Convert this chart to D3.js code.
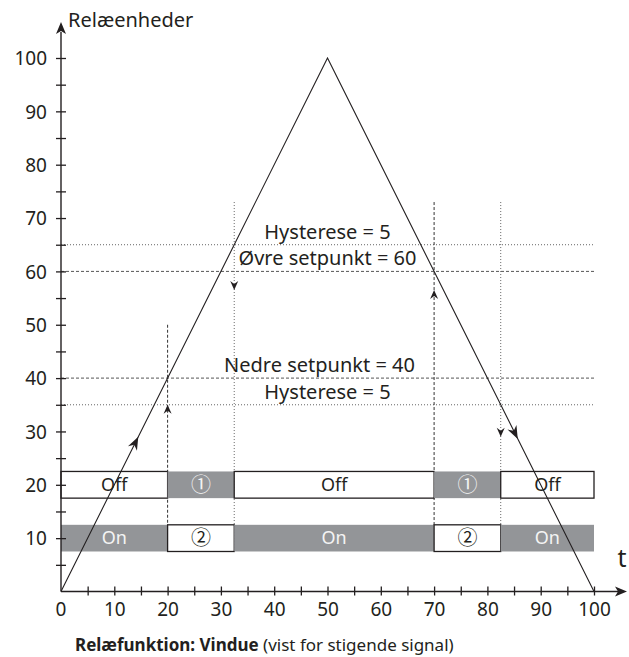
<!DOCTYPE html>
<html lang="da">
<head>
<meta charset="UTF-8">
<title>Relæfunktion: Vindue</title>
<style>
  body { margin: 0; background: #fff; }
  text { font-family: "Noto Sans", "DejaVu Sans", sans-serif; fill: #231f20; }
</style>
</head>
<body>
<div id="chart"></div>
<script src="https://cdn.jsdelivr.net/npm/d3@7"></script>
<script>
// signal: rising to the peak, then falling back
const signalT = [0, 50, 100];
const signalV = [0, 100, 0];

const xTickLabels = [0, 10, 20, 30, 40, 50, 60, 70, 80, 90, 100];
const yTickLabels = [10, 20, 30, 40, 50, 60, 70, 80, 90, 100];

const upperSetpoint = 60, lowerSetpoint = 40, hysteresis = 5;

// where the relay switches (t) and at which signal level
const switchT = [20, 32.5, 70, 82.5];
const switchLevel = [40, 65, 60, 35];
const switchLineTop = [50, 73, 73, 73];
const switchArrowTip = [35, 56.5, 56.5, 29];

// relay rows: contact 1 (Off row) and contact 2 (On row)
const rowLevel = [20, 10];
const rowHalf = 2.5;
const segStart = [0, 20, 32.5, 70, 82.5];
const segEnd = [20, 32.5, 70, 82.5, 100];
const offRowText = ["Off", "\u2460", "Off", "\u2460", "Off"];
const offRowActive = [false, true, false, true, false];
const onRowText = ["On", "\u2461", "On", "\u2461", "On"];
const onRowActive = [true, false, true, false, true];

const labelText = ["Hysterese = 5", "Øvre setpunkt = 60", "Nedre setpunkt = 40", "Hysterese = 5"];
const labelLevel = [65, 60, 40, 35];
const labelT = [50, 50, 48.5, 50];

// direction arrows on the signal line
const flowT = [14.5, 85.7];

const width = 629, height = 657;
const ink = "#231f20", grey = "#939598";

const svg = d3.select("#chart").append("svg")
    .attr("width", width)
    .attr("height", height);

const x = d3.scaleLinear().domain([0, 100]).range([61, 594]);
const y = d3.scaleLinear().domain([0, 100]).range([591.5, 58]);

// notched arrow head, tip at origin, pointing to +x
function head(len, half, notch) {
    return `M0,0L${-len},${-half}L${-len + notch},0L${-len},${half}Z`;
}

// horizontal reference lines
const hLines = [upperSetpoint + hysteresis, upperSetpoint, lowerSetpoint, lowerSetpoint - hysteresis];
const isSetLevel = v => v === upperSetpoint || v === lowerSetpoint;
svg.append("g")
    .selectAll("line")
    .data(hLines)
    .join("line")
    .attr("x1", x(0)).attr("x2", x(100))
    .attr("y1", d => y(d)).attr("y2", d => y(d))
    .attr("stroke", d => isSetLevel(d) ? "#555" : "#666")
    .attr("stroke-width", 1)
    .attr("stroke-dasharray", d => isSetLevel(d) ? "3,2" : "1,2");

// vertical switching lines
const sw = switchT.map((t, i) => ({t, level: switchLevel[i], top: switchLineTop[i], tip: switchArrowTip[i]}));
svg.append("g")
    .selectAll("line")
    .data(sw)
    .join("line")
    .attr("x1", d => x(d.t)).attr("x2", d => x(d.t))
    .attr("y1", d => y(d.top)).attr("y2", y(rowLevel[1] - rowHalf))
    .attr("stroke", d => isSetLevel(d.level) ? "#333" : "#666")
    .attr("stroke-width", 1)
    .attr("stroke-dasharray", d => isSetLevel(d.level) ? "3,2" : "1,2");

// small arrows: up at setpoint crossings, down at hysteresis crossings
svg.append("g")
    .selectAll("path")
    .data(sw)
    .join("path")
    .attr("d", head(9, 4, 3))
    .attr("fill", ink)
    .attr("transform", d => `translate(${x(d.t)},${y(d.tip)}) rotate(${isSetLevel(d.level) ? -90 : 90})`);

// relay rows
const rows = [
    {level: rowLevel[0], text: offRowText, active: offRowActive},
    {level: rowLevel[1], text: onRowText, active: onRowActive}
];
rows.forEach(r => {
    const segs = segStart.map((s, i) => ({s, e: segEnd[i], text: r.text[i], active: r.active[i]}));
    const g = svg.append("g");
    g.selectAll("rect")
        .data(segs)
        .join("rect")
        .attr("x", d => x(d.s))
        .attr("width", d => x(d.e) - x(d.s))
        .attr("y", y(r.level + rowHalf))
        .attr("height", y(r.level - rowHalf) - y(r.level + rowHalf))
        .attr("fill", d => d.active ? grey : "#fff")
        .attr("stroke", d => d.active ? "none" : ink)
        .attr("stroke-width", 1.3);
    g.selectAll("text")
        .data(segs)
        .join("text")
        .attr("x", d => x((d.s + d.e) / 2))
        .attr("y", y(r.level))
        .attr("dy", "0.35em")
        .attr("text-anchor", "middle")
        .style("font-size", d => d.text.length === 1 ? "20px" : "18px")
        .style("font-family", d => d.text.length === 1 ? "'Noto Sans CJK JP', 'DejaVu Sans', sans-serif" : null)
        .style("fill", d => d.active ? "#f4f4f4" : ink)
        .text(d => d.text);
});

// signal
const line = d3.line().x(d => x(d[0])).y(d => y(d[1]));
svg.append("path")
    .datum(signalT.map((t, i) => [t, signalV[i]]))
    .attr("d", line)
    .attr("fill", "none")
    .attr("stroke", ink)
    .attr("stroke-width", 1.1);

const signalAt = t => t <= 50 ? d3.interpolate(signalV[0], signalV[1])(t / 50) : d3.interpolate(signalV[1], signalV[2])((t - 50) / 50);
svg.append("g")
    .selectAll("path")
    .data(flowT)
    .join("path")
    .attr("d", head(13, 5, 4))
    .attr("fill", ink)
    .attr("transform", t => {
        const dx = x(t + 1) - x(t), dy = y(signalAt(t + 1)) - y(signalAt(t));
        return `translate(${x(t)},${y(signalAt(t))}) rotate(${Math.atan2(dy, dx) * 180 / Math.PI})`;
    });

// annotations
svg.append("g")
    .selectAll("text")
    .data(labelText)
    .join("text")
    .attr("x", (d, i) => x(labelT[i]))
    .attr("y", (d, i) => y(labelLevel[i]) - 6)
    .attr("text-anchor", "middle")
    .style("font-size", "20px")
    .text(d => d);

// axes
const xAxis = d3.axisBottom(x)
    .tickValues(d3.range(5, 101, 5))
    .tickFormat(d => xTickLabels.includes(d) ? d : "")
    .tickSize(0);
const gx = svg.append("g").attr("transform", `translate(0,${y(0)})`).call(xAxis);
gx.select(".domain").remove();
gx.selectAll(".tick line").attr("y1", -5).attr("y2", 4).attr("stroke", ink).attr("stroke-width", 1.3);
gx.selectAll(".tick text").attr("y", 11).attr("dy", "0.71em")
    .style("font-size", "19px").style("font-family", null).attr("fill", null);
gx.append("text").attr("x", x(0)).attr("y", 11).attr("dy", "0.71em")
    .attr("text-anchor", "middle").style("font-size", "19px").text(xTickLabels[0]);

const yAxis = d3.axisLeft(y)
    .tickValues(d3.range(5, 101, 5))
    .tickFormat(d => yTickLabels.includes(d) ? d : "")
    .tickSize(0);
const gy = svg.append("g").attr("transform", `translate(${x(0)},0)`).call(yAxis);
gy.select(".domain").remove();
gy.selectAll(".tick line").attr("x1", -5).attr("x2", 5).attr("stroke", ink).attr("stroke-width", 1.3);
gy.selectAll(".tick text").attr("x", -14).attr("dy", "0.35em")
    .style("font-size", "19px").style("font-family", null).attr("fill", null);

svg.append("line")
    .attr("x1", x(0)).attr("x2", 618)
    .attr("y1", y(0)).attr("y2", y(0))
    .attr("stroke", ink).attr("stroke-width", 1.4);
svg.append("path").attr("d", head(12, 5, 3)).attr("fill", ink)
    .attr("transform", `translate(627,${y(0)})`);

svg.append("line")
    .attr("x1", x(0)).attr("x2", x(0))
    .attr("y1", y(0)).attr("y2", 32)
    .attr("stroke", ink).attr("stroke-width", 1.4);
svg.append("path").attr("d", head(12, 5, 3)).attr("fill", ink)
    .attr("transform", `translate(${x(0)},22) rotate(-90)`);

svg.append("text").attr("x", 68).attr("y", 27).style("font-size", "20px").text("Relæenheder");
svg.append("text").attr("x", 622).attr("y", 567).attr("text-anchor", "middle").style("font-size", "25px").text("t");

// caption
const cap = svg.append("text").attr("x", 75).attr("y", 651).style("font-size", "17px");
cap.append("tspan").style("font-weight", "bold").text("Relæfunktion: Vindue");
cap.append("tspan").text(" (vist for stigende signal)");
</script>
</body>
</html>
